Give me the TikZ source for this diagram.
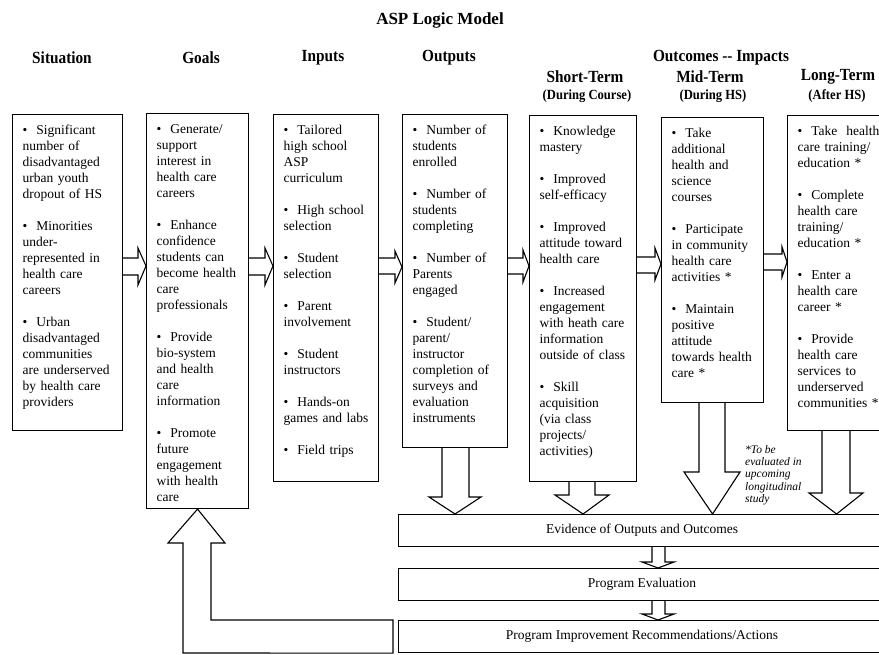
\documentclass[tikz,border=0pt]{standalone}
\usepackage{fontspec}
\setmainfont{Liberation Serif}
\newfontfamily\headfont[FakeStretch=0.9]{Liberation Serif}

\begin{document}
\begin{tikzpicture}[x=1pt, y=-1pt,
infobox/.style={rectangle, draw=black, line width=1.1pt, anchor=north west, inner xsep=10pt, inner ysep=0pt, align=left, text height=19.5pt, font=\fontsize{13.5}{16}\selectfont},
barbox/.style={rectangle, draw=black, line width=1.1pt, anchor=north west, minimum width=487pt, minimum height=32pt, font=\fontsize{13.5}{16}\selectfont},
titlenode/.style={font=\bfseries\fontsize{17}{20}\selectfont},
headnode/.style={font=\headfont\bfseries\fontsize{17}{20}\selectfont},
subnode/.style={font=\headfont\bfseries\fontsize{14}{16}\selectfont},
notenode/.style={anchor=north west, align=left, inner sep=0pt, font=\itshape\fontsize{11.5}{12.3}\selectfont},
blockarrow/.style={draw=black, line width=1.1pt, line join=miter},
]
\useasboundingbox (0,0) rectangle (879,654);
\clip (0,0) rectangle (879,654);

%Nodes
\node[titlenode]  at (440,20)      (title)        [] {ASP Logic Model};

\node[headnode]   at (62,58)       (h_situation)  [] {Situation};
\node[headnode]   at (201,58)      (h_goals)      [] {Goals};
\node[headnode]   at (323,58)      (h_inputs)     [] {Inputs};
\node[headnode]   at (449,58)      (h_outputs)    [] {Outputs};
\node[headnode]   at (721,58)      (h_outcomes)   [] {Outcomes -{}- Impacts};

\node[headnode]   at (585,77)      (h_short)      [] {Short-Term};
\node[headnode]   at (710,77)      (h_mid)        [] {Mid-Term};
\node[headnode]   at (838,77)      (h_long)       [] {Long-Term};
\node[subnode]    at (587,96)      (s_short)      [] {(During Course)};
\node[subnode]    at (713,96)      (s_mid)        [] {(During HS)};
\node[subnode]    at (837,96)      (s_long)       [] {(After HS)};

\node[infobox, text width=90pt, text depth=296.5pt]  at (12,114)   (situation)  [] {\textbullet~~Significant\\number of\\disadvantaged\\urban youth\\dropout of HS\\[16pt]\textbullet~~Minorities\\under-\\represented in\\health care\\careers\\[16pt]\textbullet~~Urban\\disadvantaged\\communities\\are underserved\\by health care\\providers};

\node[infobox, text width=82pt, text depth=375.5pt]  at (146,113)  (goals)      [] {\textbullet~~Generate/\\support\\interest in\\health care\\careers\\[16pt]\textbullet~~Enhance\\confidence\\students can\\become health\\care\\professionals\\[16pt]\textbullet~~Provide\\bio-system\\and health\\care\\information\\[16pt]\textbullet~~Promote\\future\\engagement\\with health\\care};

\node[infobox, text width=85pt, text depth=347.5pt]  at (273,114)  (inputs)     [] {\textbullet~~Tailored\\high school\\ASP\\curriculum\\[16pt]\textbullet~~High school\\selection\\[16pt]\textbullet~~Student\\selection\\[16pt]\textbullet~~Parent\\involvement\\[16pt]\textbullet~~Student\\instructors\\[16pt]\textbullet~~Hands-on\\games and labs\\[16pt]\textbullet~~Field trips};

\node[infobox, text width=85pt, text depth=313.5pt]  at (402,114)  (outputs)    [] {\textbullet~~Number of\\students\\enrolled\\[16pt]\textbullet~~Number of\\students\\completing\\[16pt]\textbullet~~Number of\\Parents\\engaged\\[16pt]\textbullet~~Student/\\parent/\\instructor\\completion of\\surveys and\\evaluation\\instruments};

\node[infobox, text width=87pt, text depth=346.5pt]  at (529,115)  (short)      [] {\textbullet~~Knowledge\\mastery\\[16pt]\textbullet~~Improved\\self-efficacy\\[16pt]\textbullet~~Improved\\attitude toward\\health care\\[16pt]\textbullet~~Increased\\engagement\\with heath care\\information\\outside of class\\[16pt]\textbullet~~Skill\\acquisition\\(via class\\projects/\\activities)};

\node[infobox, text width=82pt, text depth=265.5pt]  at (661,117)  (mid)        [] {\textbullet~~Take\\additional\\health and\\science\\courses\\[16pt]\textbullet~~Participate\\in community\\health care\\activities~*\\[16pt]\textbullet~~Maintain\\positive\\attitude\\towards health\\care~*};

\node[infobox, text width=78pt, text depth=295.5pt]  at (787,115)  (long)       [] {\textbullet~~Take~~health\\care training/\\education~*\\[16pt]\textbullet~~Complete\\health care\\training/\\education~*\\[16pt]\textbullet~~Enter a\\health care\\career~*\\[16pt]\textbullet~~Provide\\health care\\services to\\underserved\\communities~*};

\node[notenode]   at (745,445)     (note)         [] {*To be\\evaluated in\\upcoming\\longitudinal\\study};

\node[barbox]     at (398,514)     (evidence)     [] {Evidence of Outputs and Outcomes};
\node[barbox]     at (398,568)     (evaluation)   [] {Program Evaluation};
\node[barbox]     at (398,620)     (improvement)  [] {Program Improvement Recommendations/Actions};

%Lines
\draw[blockarrow] (situation.east |- 0,258) -- (138,258) -- (138,248) -- (goals.west |- 0,266) -- (138,285) -- (138,275) -- (situation.east |- 0,275);
\draw[blockarrow] (goals.east |- 0,258) -- (265,258) -- (265,248) -- (inputs.west |- 0,266) -- (265,285) -- (265,275) -- (goals.east |- 0,275);
\draw[blockarrow] (inputs.east |- 0,258) -- (395,258) -- (395,251) -- (outputs.west |- 0,267) -- (395,283) -- (395,274) -- (inputs.east |- 0,274);
\draw[blockarrow] (outputs.east |- 0,258) -- (523,258) -- (523,250) -- (short.west |- 0,266) -- (523,282) -- (523,274) -- (outputs.east |- 0,274);
\draw[blockarrow] (short.east |- 0,257) -- (655,257) -- (655,248) -- (mid.west |- 0,264) -- (655,280) -- (655,273) -- (short.east |- 0,273);
\draw[blockarrow] (mid.east |- 0,254) -- (782,254) -- (782,247) -- (long.west |- 0,262) -- (782,277) -- (782,270) -- (mid.east |- 0,270);

\draw[blockarrow] (442,0 |- outputs.south) -- (442,497) -- (429,497) -- (outputs.south |- evidence.north) -- (481,497) -- (469,497) -- (469,0 |- outputs.south);
\draw[blockarrow] (569,0 |- short.south) -- (569,495) -- (555,495) -- (short.south |- evidence.north) -- (609,495) -- (595,495) -- (595,0 |- short.south);
\draw[blockarrow] (699,0 |- mid.south) -- (699,472) -- (684,472) -- (mid.south |- evidence.north) -- (740,472) -- (725,472) -- (725,0 |- mid.south);
\draw[blockarrow] (822,0 |- long.south) -- (822,493) -- (809,493) -- (long.south |- evidence.north) -- (863,493) -- (850,493) -- (850,0 |- long.south);

\draw[blockarrow] (652,0 |- evidence.south) -- (652,562) -- (642,562) -- (658,0 |- evaluation.north) -- (674,562) -- (665,562) -- (665,0 |- evidence.south);
\draw[blockarrow] (652,0 |- evaluation.south) -- (652,614) -- (642,614) -- (658,0 |- improvement.north) -- (674,614) -- (665,614) -- (665,0 |- evaluation.south);

\draw[blockarrow] (393,0 |- improvement.north) -- (211,620) -- (211,543) -- (225,543) -- (goals.south) -- (168,543) -- (183,543) -- (183,653) -- (393,0 |- improvement.south) -- cycle;

\end{tikzpicture}
\end{document}
